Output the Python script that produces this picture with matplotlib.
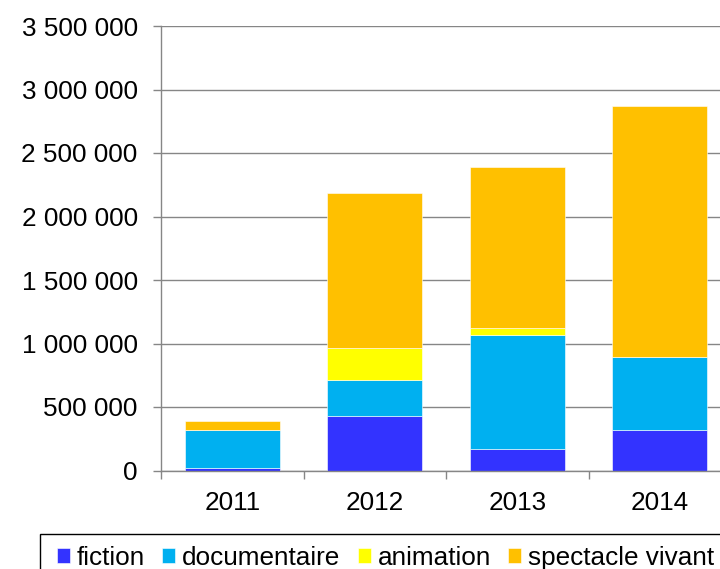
import numpy as np
import matplotlib
matplotlib.use('Agg')
from matplotlib import pyplot as plt
from matplotlib.ticker import FuncFormatter
from matplotlib.patches import Rectangle

# values
years = ['2011', '2012', '2013', '2014']
fiction = [22000, 426000, 172000, 319000]
documentaire = [294000, 286000, 894000, 574000]
animation = [0, 252000, 55000, 0]
spectacle = [74000, 1219000, 1269000, 1975000]

series = [('fiction', fiction, '#3333FF'),
          ('documentaire', documentaire, '#00B0F0'),
          ('animation', animation, '#FFFF00'),
          ('spectacle vivant', spectacle, '#FFC000')]

plt.rcParams['font.family'] = ['Liberation Sans', 'DejaVu Sans']
fs = 18.8
grey = '#868686'

fig = plt.figure(figsize=(7.2, 5.69), dpi=100)
W, H = 720, 569
# axes runs past the right edge, as in the cropped reference
ax = fig.add_axes([161/W, 1 - 470.5/H, 570/W, (470.5 - 26)/H])

x = np.arange(len(years))
bottom = np.zeros(len(years))
handles = []
for name, vals, col in series:
    b = ax.bar(x, vals, 0.67, bottom=bottom, color=col, label=name,
               edgecolor='#ffffff', linewidth=0.4, zorder=2)
    handles.append(b)
    bottom += np.array(vals)

ax.set_xlim(-0.5, 3.5)
ax.set_ylim(0, 3500000)
ax.set_yticks(np.arange(0, 3500001, 500000))
ax.yaxis.set_major_formatter(FuncFormatter(lambda v, p: f'{int(v):,}'.replace(',', ' ')))
ax.yaxis.grid(True, color=grey, linewidth=1.0, zorder=0)
ax.set_axisbelow(True)

ax.set_xticks(x)
ax.set_xticklabels(years)
ax.set_xticks(np.arange(-0.5, 4.0, 1.0), minor=True)
ax.tick_params(axis='x', which='major', length=0, pad=15, labelsize=fs)
ax.tick_params(axis='x', which='minor', length=5.5, width=1.0, color=grey)
ax.tick_params(axis='y', length=5.8, width=1.0, color=grey, pad=11, labelsize=fs)

for s in ['top', 'right']:
    ax.spines[s].set_visible(False)
for s in ['left', 'bottom']:
    ax.spines[s].set_color(grey)
    ax.spines[s].set_linewidth(1.0)

# legend box, cut by the right and bottom edges like the reference
fig.patches.append(Rectangle((40/W, -0.05), 0.98, 1 - 534/H + 0.05,
                             transform=fig.transFigure, facecolor='white',
                             edgecolor='black', linewidth=1.0))
fig.legend(handles=handles, loc='upper left',
           bbox_to_anchor=(57/W, 1 - 546/H), borderaxespad=0,
           ncol=4, fontsize=fs, frameon=False,
           handlelength=0.5, handleheight=0.5, handletextpad=0.26,
           columnspacing=0.66, borderpad=0)

fig.savefig('out.png', dpi=100)
